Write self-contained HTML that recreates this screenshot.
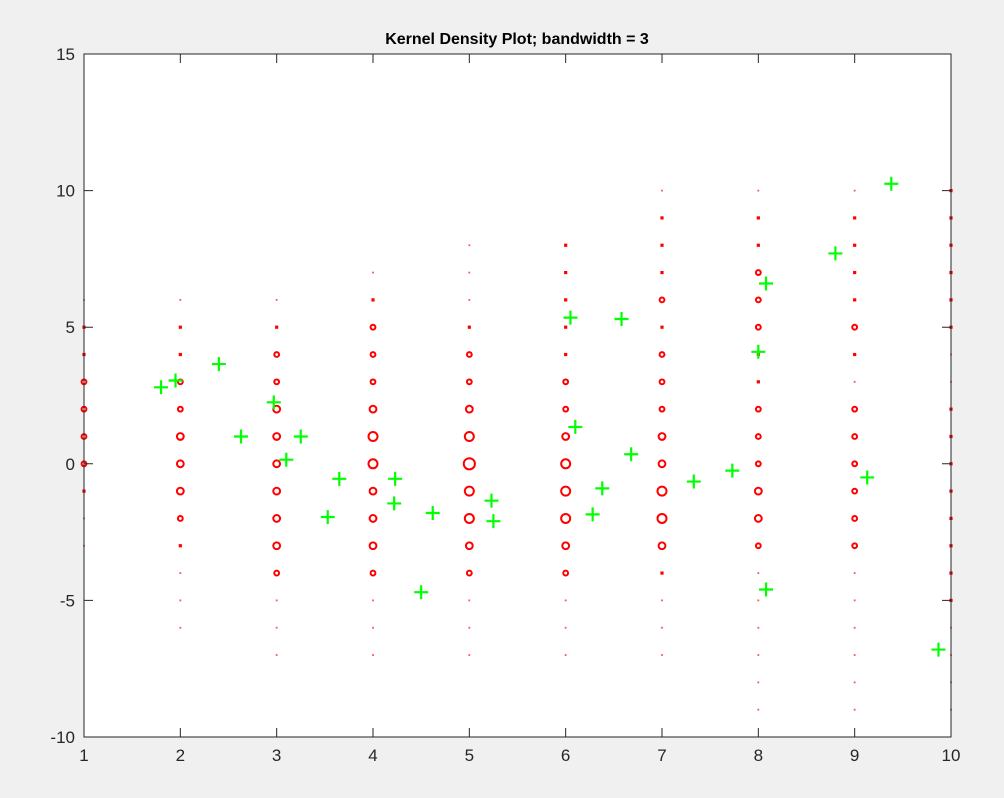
<!DOCTYPE html>
<html><head><meta charset="utf-8"><style>
body{margin:0;background:#f0f0f0;}
svg{display:block;font-family:"Liberation Sans",Arial,sans-serif;}
</style></head><body>
<svg id="chart" width="1004" height="798">
<rect x="0" y="0" width="1004" height="798" fill="#f0f0f0"/>
<rect x="84" y="54" width="867" height="683" fill="#fff"/>
<text x="517" y="44" text-anchor="middle" font-size="16" font-weight="bold" fill="#000">Kernel Density Plot; bandwidth = 3</text>
<g id="marks"></g>
<rect x="84" y="54" width="867" height="683" fill="none" stroke="#262626" stroke-width="1"/>
<g id="axes"></g>
</svg>
<script>
const xTicks=[1,2,3,4,5,6,7,8,9,10];
const yTicks=[-10,-5,0,5,10,15];
const colX=[1,2,3,4,5,6,7,8,9,10];
const colTop=[6,6,6,7,8,8,10,10,10,10];
// size levels from top y down by 1: 0 tiny,1 dot,2 small ring,3 ring,4 big ring,5 biggest ring
const colSizes=[
[0,1,1,2,2,2,2,1,0,0],
[0,1,1,2,2,3,3,3,2,1,0,0,0],
[0,1,2,2,3,3,3,3,3,3,2,0,0,0],
[0,1,2,2,2,3,4,4,3,3,3,2,0,0,0],
[0,0,0,1,2,2,3,4,5,4,4,3,2,0,0,0],
[1,1,1,1,1,2,2,3,4,4,4,3,2,0,0,0],
[0,1,1,1,2,1,2,2,2,3,3,4,4,3,1,0,0,0],
[0,1,1,2,2,2,1,1,2,2,2,3,3,2,0,0,0,0,0,0],
[0,1,1,1,1,2,1,0,2,2,2,2,2,2,0,0,0,0,0,0],
[1,1,1,1,1,1,0,0,1,1,1,1,1,1,1,1,0,0,0,0]
];
const ptX=[1.8,1.95,2.4,2.63,2.97,3.1,3.25,3.53,3.65,4.23,4.22,4.5,4.62,5.23,5.25,6.05,6.1,6.28,6.38,6.58,6.68,7.33,7.73,8.0,8.08,8.08,8.8,9.13,9.38,9.87];
const ptY=[2.8,3.05,3.65,1.0,2.25,0.15,1.0,-1.95,-0.55,-0.55,-1.45,-4.7,-1.8,-1.35,-2.1,5.35,1.35,-1.85,-0.9,5.3,0.35,-0.65,-0.25,4.1,6.6,-4.6,7.7,-0.5,10.25,-6.8];

const L=84,R=951,T=54,B=737,xmin=1,xmax=10,ymin=-10,ymax=15;
const sx=v=>L+(v-xmin)/(xmax-xmin)*(R-L);
const sy=v=>B-(v-ymin)/(ymax-ymin)*(B-T);
const NS='http://www.w3.org/2000/svg';
const marks=document.getElementById('marks'),axes=document.getElementById('axes');
function mk(tag,attrs,parent){const e=document.createElementNS(NS,tag);for(const k in attrs)e.setAttribute(k,attrs[k]);parent.appendChild(e);return e;}
const radii=[0.9,1.6,2.4,3.4,4.5,5.6];
colX.forEach((cx,i)=>{
  colSizes[i].forEach((s,j)=>{
    const yv=colTop[i]-j;
    let c;
    if(s<=1){c=mk('rect',{x:sx(cx)-radii[s],y:sy(yv)-radii[s],width:radii[s]*2,height:radii[s]*2,fill:s==0?'#f55':'#f00'},marks);}
    else{c=mk('circle',{cx:sx(cx),cy:sy(yv),r:radii[s],fill:'none',stroke:'#f00','stroke-width':2},marks);}
    
    
  });
});
ptX.forEach((x,i)=>{
  const px=sx(x),py=sy(ptY[i]);
  const g=mk('path',{d:`M${px-7},${py}H${px+7}M${px},${py-7}V${py+7}`,stroke:'#0f0','stroke-width':2.2,fill:'none'},marks);
  
  
});
xTicks.forEach(t=>{
  const x=sx(t);
  const k=mk('path',{d:`M${x},${B}V${B-9}M${x},${T}V${T+9}`,stroke:'#262626','stroke-width':1},axes);
  
  
  const l=mk('text',{x:x,y:B+24,'text-anchor':'middle','font-size':17,fill:'#262626'},axes);
  l.textContent=t;
  
  
});
yTicks.forEach(t=>{
  const y=sy(t);
  const k=mk('path',{d:`M${L},${y}H${L+9}M${R},${y}H${R-9}`,stroke:'#262626','stroke-width':1},axes);
  
  
  const l=mk('text',{x:L-9,y:y+6,'text-anchor':'end','font-size':17,fill:'#262626'},axes);
  l.textContent=t;
  
  
});
</script>
</body></html>
